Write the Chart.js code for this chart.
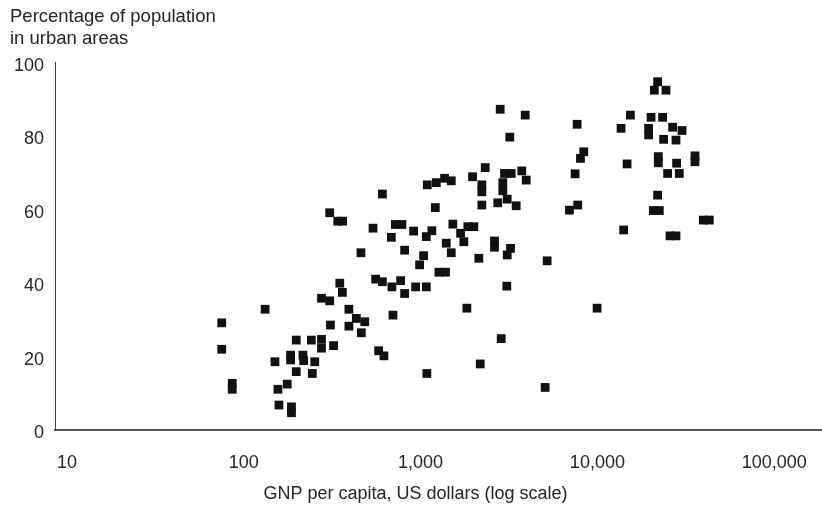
<!DOCTYPE html>
<html><head><meta charset="utf-8">
<script src="https://cdn.jsdelivr.net/npm/chart.js@4.4.1/dist/chart.umd.min.js"></script>
<style>html,body{margin:0;padding:0;background:#fff}</style>
</head><body>
<canvas id="c" width="822" height="506"></canvas>
<script>
// GNP per capita (US dollars) for each country
const gnpPerCapita = [
  608, 306, 340, 362, 538, 460, 557, 608, 349, 361, 275, 306, 132, 393, 75, 309, 433, 483, 393, 462,
  198, 241, 275, 275, 322, 75, 579, 620, 184, 184, 216, 218, 150, 252, 198, 244, 86, 86, 176, 156,
  158, 186, 186,
  2820, 3905, 3195, 2320, 1967, 2220, 2220, 2982, 3254, 2917, 2917, 2733, 3090, 3473, 3735, 3956,
  2220, 1091, 1227, 1366, 1491, 1211, 6947, 720, 784, 683, 913, 1158, 1077, 1522, 1850, 2000, 1683,
  1756, 1397, 1491, 2618, 2618, 3225, 3090, 2135, 5196, 812, 1040, 987, 1269, 1384, 771, 688, 812,
  937, 1077, 3074, 1827, 698, 2857, 2174, 1085, 5063,
  21910, 20990, 24440, 15370, 20120, 23380, 7680, 13610, 19490, 19490, 26640, 30100, 23690, 27840,
  8370, 8020, 7480, 14720, 22110, 22110, 28060, 24960, 29060, 35650, 35650, 21910, 20720, 22400,
  7740, 39720, 42950, 14080, 25750, 27840, 9960
];
// Percentage of population in urban areas, same order
const urbanPercent = [
  64.3, 59.2, 56.9, 56.9, 55.0, 48.3, 41.1, 40.4, 40.0, 37.5, 35.9, 35.2, 32.9, 32.9, 29.2, 28.6, 30.4, 29.5, 28.3, 26.5,
  24.5, 24.5, 24.7, 22.3, 23.0, 22.0, 21.6, 20.2, 20.4, 19.1, 20.4, 18.9, 18.6, 18.6, 15.9, 15.4, 12.7, 11.1, 12.5, 11.1,
  6.8, 6.3, 4.7,
  87.4, 85.8, 79.8, 71.5, 69.0, 66.8, 64.9, 69.9, 69.9, 67.4, 65.2, 61.9, 62.9, 61.1, 70.6, 68.1,
  61.3, 66.8, 67.4, 68.6, 67.9, 60.6, 59.9, 56.0, 56.0, 52.5, 54.2, 54.3, 52.7, 56.1, 55.4, 55.4, 53.6,
  51.3, 50.9, 48.3, 51.5, 49.8, 49.5, 47.7, 46.8, 46.1, 49.0, 47.5, 45.0, 43.0, 43.0, 40.7, 39.0, 37.2,
  39.0, 39.0, 39.2, 33.2, 31.3, 24.9, 18.0, 15.4, 11.6,
  94.9, 92.6, 92.6, 85.8, 85.2, 85.2, 83.3, 82.2, 82.2, 80.4, 82.5, 81.6, 79.2, 79.0,
  75.8, 74.0, 69.8, 72.5, 74.5, 72.8, 72.7, 69.9, 69.9, 74.7, 73.1, 64.0, 59.8, 59.8,
  61.3, 57.2, 57.2, 54.5, 52.9, 52.9, 33.2
];
const xTickValues = [10, 100, 1000, 10000, 100000];
const yTickValues = [0, 20, 40, 60, 80, 100];
const yTitleLines = ['Percentage of population', 'in urban areas'];
const xTitleText = 'GNP per capita, US dollars (log scale)';

const textColor = '#262626';
const fontFamily = "'Liberation Sans', Arial, Helvetica, sans-serif";
Chart.defaults.font.family = fontFamily;

const points = gnpPerCapita.map((g, i) => ({ x: g, y: urbanPercent[i] }));

new Chart(document.getElementById('c'), {
  type: 'scatter',
  data: {
    datasets: [{
      data: points,
      pointStyle: 'rect',
      pointRadius: 6.2,
      pointHoverRadius: 6.2,
      backgroundColor: '#111',
      borderColor: '#111',
      borderWidth: 0
    }]
  },
  options: {
    responsive: false,
    animation: false,
    devicePixelRatio: 1,
    layout: { autoPadding: false, padding: { left: 10, right: 1, top: 0, bottom: 0 } },
    plugins: {
      legend: { display: false },
      tooltip: { enabled: false },
      title: {
        display: true,
        text: yTitleLines,
        align: 'start',
        color: textColor,
        font: { size: 18.5, weight: 'normal', lineHeight: 21.5 / 18.5 },
        padding: { top: 6.5, bottom: 13.5 }
      },
      subtitle: {
        display: true,
        position: 'bottom',
        text: xTitleText,
        color: textColor,
        font: { size: 18, weight: 'normal', lineHeight: 1.2 },
        padding: { top: 9.4, bottom: 1.2 }
      }
    },
    scales: {
      x: {
        type: 'logarithmic',
        min: 8.55,
        max: 184000,
        afterBuildTicks: s => { s.ticks = xTickValues.map(v => ({ value: v })); },
        afterFit: s => { s.height = 43.8; },
        ticks: {
          autoSkip: false,
          maxRotation: 0,
          padding: 0,
          color: textColor,
          font: { size: 18 },
          callback: v => Number(v).toLocaleString('en-US')
        },
        grid: { display: false, drawTicks: true, tickLength: 22.2, tickColor: 'rgba(0,0,0,0)' },
        border: { display: true, color: '#555', width: 2 }
      },
      y: {
        min: 0,
        max: 100,
        afterBuildTicks: s => { s.ticks = yTickValues.map(v => ({ value: v })); },
        afterFit: s => { s.width = 45; },
        ticks: {
          padding: 11,
          labelOffset: 3,
          color: textColor,
          font: { size: 18 }
        },
        grid: { display: false, drawTicks: false },
        border: { display: true, color: '#444', width: 1 }
      }
    }
  }
});
</script>
</body></html>
